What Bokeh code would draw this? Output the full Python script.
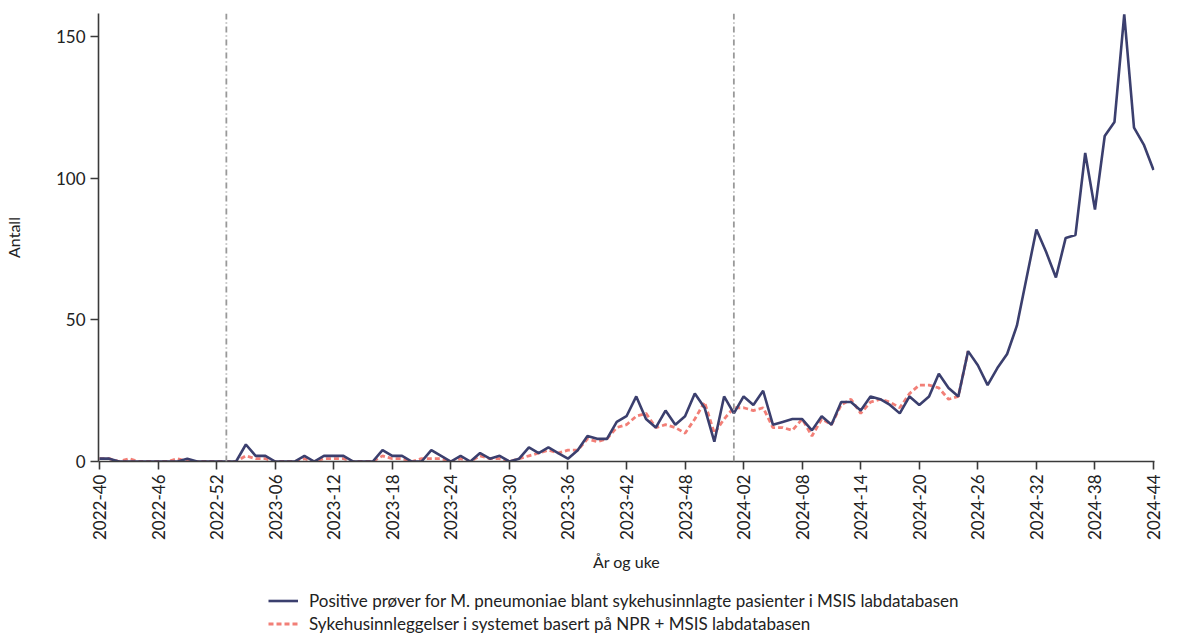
from bokeh.plotting import figure
from bokeh.layouts import column
from bokeh.models import Range1d, FixedTicker, Legend, LegendItem, Span
from bokeh.embed import file_html
from bokeh.resources import INLINE
import math

# categories: ISO year-week labels
weeks = ([f"2022-{w:02d}" for w in range(40, 53)]
         + [f"2023-{w:02d}" for w in range(1, 53)]
         + [f"2024-{w:02d}" for w in range(1, 45)])

# Positive prøver for M. pneumoniae blant sykehusinnlagte pasienter i MSIS labdatabasen
msis = [1, 1, 0, 0, 0, 0, 0, 0, 0, 1, 0, 0, 0, 0, 0, 6, 2, 2, 0, 0,
        0, 2, 0, 2, 2, 2, 0, 0, 0, 4, 2, 2, 0, 0, 4, 2, 0, 2, 0, 3,
        1, 2, 0, 1, 5, 3, 5, 3, 1, 4, 9, 8, 8, 14, 16, 23, 15, 12, 18, 13,
        16, 24, 19, 7, 23, 17, 23, 20, 25, 13, 14, 15, 15, 11, 16, 13, 21, 21, 18, 23,
        22, 20, 17, 23, 20, 23, 31, 26, 23, 39, 34, 27, 33, 38, 48, 65, 82, 74, 65, 79,
        80, 109, 89, 115, 120, 158, 118, 112, 103]

# Sykehusinnleggelser i systemet basert på NPR + MSIS labdatabasen
npr = [1, 1, 0, 1, 0, 0, 0, 0, 1, 0, 0, 0, 0, 0, 0, 2, 1, 1, 0, 0,
       0, 1, 0, 1, 1, 1, 0, 0, 0, 2, 1, 1, 0, 1, 1, 1, 0, 1, 0, 2,
       1, 1, 0, 1, 2, 3, 4, 3, 4, 4, 8, 7, 8, 12, 13, 16, 17, 12, 13, 12,
       10, 15, 21, 10, 15, 19, 19, 18, 19, 12, 12, 11, 15, 9, 15, 13, 20, 22, 17, 21,
       22, 21, 19, 24, 27, 27, 26, 22, 23, 39]

season_starts = ["2023-01", "2024-01"]
y_ticks = [0, 50, 100, 150]

labels = ["Positive prøver for M. pneumoniae blant sykehusinnlagte pasienter i MSIS labdatabasen",
          "Sykehusinnleggelser i systemet basert på NPR + MSIS labdatabasen"]

BLUE = "#3b3f6e"
RED = "#f27f77"
FONT = "Lato"
TXT = "#222222"

x1 = list(range(len(msis)))
x2 = list(range(len(npr)))

p = figure(width=1164, height=590, output_backend="svg", toolbar_location=None,
           x_range=Range1d(-0.1, len(weeks) - 1 + 0.1), y_range=Range1d(0, 158.3),
           min_border_left=92, min_border_right=10, min_border_top=13, min_border_bottom=129)
p.outline_line_color = None
p.xgrid.grid_line_color = None
p.ygrid.grid_line_color = None

for wk in season_starts:
    p.add_layout(Span(location=weeks.index(wk), dimension="height",
                      line_color="#999999", line_width=1.8, line_dash="6 3 1 3"))

p.line(x2, npr, line_color=RED, line_width=2.8, line_dash="5 3")
p.line(x1, msis, line_color=BLUE, line_width=2.6)

# axes
p.xaxis.ticker = FixedTicker(ticks=list(range(0, len(weeks), 6)))
p.xaxis.major_label_overrides = {i: weeks[i] for i in range(0, len(weeks), 6)}
p.xaxis.major_label_orientation = math.pi / 2
p.yaxis.ticker = FixedTicker(ticks=y_ticks)
p.xaxis.axis_label = "År og uke"
p.yaxis.axis_label = "Antall"
for ax in (p.xaxis[0], p.yaxis[0]):
    ax.axis_line_color = "#3a3a3a"
    ax.axis_line_width = 1.6
    ax.major_tick_line_color = "#3a3a3a"
    ax.major_tick_line_width = 1.6
    ax.major_tick_out = 8
    ax.major_tick_in = 0
    ax.minor_tick_line_color = None
    ax.major_label_text_font = FONT
    ax.major_label_text_font_size = "17px"
    ax.major_label_text_color = TXT
    ax.axis_label_text_font = FONT
    ax.axis_label_text_font_size = "16px"
    ax.axis_label_text_font_style = "normal"
    ax.axis_label_text_color = TXT
    ax.major_label_standoff = 5
p.xaxis.axis_label_standoff = 9
p.yaxis.axis_label_standoff = 30

# legend panel below the chart
lg = figure(width=1164, height=44, output_backend="svg", toolbar_location=None,
            x_range=Range1d(0, 1), y_range=Range1d(0, 1),
            x_axis_location=None, y_axis_location=None,
            min_border=0)
lg.outline_line_color = None
lg.xgrid.grid_line_color = None
lg.ygrid.grid_line_color = None
nan = float("nan")
g1 = lg.line([nan], [nan], line_color=BLUE, line_width=2.6)
g2 = lg.line([nan], [nan], line_color=RED, line_width=2.8, line_dash="5 3")
legend = Legend(items=[LegendItem(label=labels[0], renderers=[g1]),
                       LegendItem(label=labels[1], renderers=[g2])],
                location=(170, 0), orientation="vertical")
legend.label_text_font = FONT
legend.label_text_font_size = "17px"
legend.label_text_color = TXT
legend.glyph_width = 30
legend.glyph_height = 21
legend.label_height = 21
legend.spacing = 2
legend.padding = 0
legend.margin = 0
legend.label_standoff = 11
legend.border_line_color = None
legend.background_fill_alpha = 0
lg.add_layout(legend)

layout = column(p, lg, spacing=0)
open("out.html", "w").write(file_html(layout, INLINE))
